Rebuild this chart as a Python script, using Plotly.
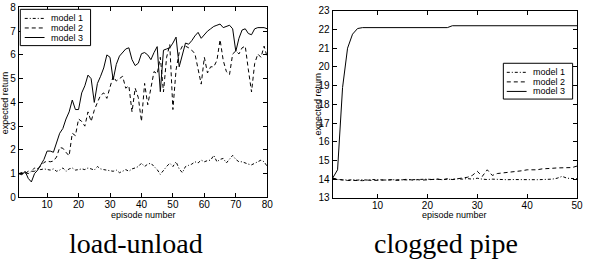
import plotly.graph_objects as go

# ---------------- data ----------------
series_names = ["model 1", "model 2", "model 3"]
captions = ["load-unload", "clogged pipe"]
axis_title_x = "episode number"
axis_title_y = "expected return"

lu_episodes = list(range(1, 81))
lu_model1 = [1.0, 1.0, 1.05, 1.0, 1.1, 1.24, 1.2, 1.17, 1.2, 1.17,
             1.15, 1.2, 1.1, 1.15, 1.24, 1.1, 1.2, 1.24, 1.15, 1.17,
             1.2, 1.17, 1.24, 1.2, 1.15, 1.3, 1.2, 1.17, 1.15, 1.1,
             1.1, 1.15, 1.04, 1.1, 1.17, 1.1, 1.2, 1.24, 1.3, 1.44,
             1.3, 1.4, 1.44, 1.3, 1.17, 0.97, 1.15, 1.3, 1.44, 1.3,
             1.5, 1.2, 1.04, 1.3, 1.35, 1.4, 1.5, 1.45, 1.57, 1.5,
             1.55, 1.57, 1.77, 1.5, 1.6, 1.64, 1.45, 1.6, 1.77, 1.6,
             1.5, 1.5, 1.44, 1.4, 1.37, 1.45, 1.5, 1.57, 1.5, 1.3]
lu_model2 = [1.0, 1.05, 1.0, 1.1, 1.1, 1.1, 1.2, 1.33, 1.47, 1.53,
             1.5, 1.53, 1.7, 2.1, 2.07, 1.9, 1.75, 2.7, 2.6, 3.3,
             3.2, 3.0, 3.6, 3.2, 3.67, 4.0, 4.3, 4.4, 4.17, 4.64,
             5.1, 4.9, 5.0, 5.1, 4.6, 4.7, 3.6, 4.6, 4.2, 3.2,
             4.8, 3.9, 4.6, 5.3, 5.2, 5.9, 4.44, 5.9, 6.44, 3.7,
             5.37, 6.1, 6.37, 6.37, 6.3, 6.2, 6.05, 5.37, 4.77, 5.9,
             5.24, 5.5, 5.5, 5.77, 6.64, 5.77, 5.3, 5.17, 6.04, 6.17,
             6.04, 6.3, 6.37, 5.37, 4.44, 5.64, 6.04, 5.9, 6.37, 5.9]
lu_model3 = [1.0, 0.95, 1.1, 0.8, 0.65, 1.0, 1.15, 1.4, 1.6, 1.95,
             1.95, 1.9, 2.3, 2.7, 2.9, 3.3, 3.6, 4.1, 3.7, 3.7,
             4.4, 4.7, 5.15, 5.0, 4.0, 4.8, 5.1, 5.45, 6.0, 5.9,
             4.95, 5.6, 5.95, 6.1, 6.25, 6.3, 5.8, 5.55, 5.65, 6.05,
             6.1, 6.0, 5.8, 6.1, 6.35, 4.45, 6.2, 6.25, 6.3, 6.5,
             6.75, 5.5, 6.0, 6.5, 6.45, 6.6, 6.8, 6.95, 6.7, 6.85,
             7.0, 7.1, 7.2, 7.25, 7.3, 7.15, 7.2, 7.25, 7.1, 6.15,
             6.7, 7.05, 7.1, 6.9, 6.85, 7.1, 7.15, 7.15, 7.15, 7.1]

cp_episodes = list(range(1, 51))
cp_model1 = [14.05, 13.98, 13.97, 13.95, 13.97, 13.95, 13.97, 13.95, 13.98, 13.96,
             13.98, 13.95, 13.97, 13.96, 13.98, 13.96, 13.97, 13.99, 13.97, 14.0,
             13.98, 14.0, 13.97, 14.0, 13.98, 14.02, 14.0, 14.03, 14.0, 14.05,
             14.0, 13.98, 14.0, 13.98, 13.98, 13.97, 13.98, 13.97, 13.98, 13.97,
             13.98, 13.97, 13.98, 13.98, 14.0, 14.05, 14.15, 14.05, 14.03, 14.02]
cp_model2 = [14.05, 13.98, 13.95, 13.93, 13.95, 13.93, 13.92, 13.95, 13.93, 13.95,
             13.93, 13.95, 13.97, 13.93, 13.95, 14.0, 13.95, 13.97, 13.95, 13.98,
             13.97, 14.0, 13.97, 14.02, 13.98, 14.03, 14.05, 14.1, 14.2, 14.42,
             14.15, 14.5, 14.2, 14.3, 14.33, 14.35, 14.38, 14.4, 14.45, 14.5,
             14.5, 14.5, 14.55, 14.55, 14.58, 14.6, 14.6, 14.6, 14.62, 14.7]
cp_model3 = [14.05, 14.5, 18.9, 21.0, 21.75, 22.05, 22.1, 22.1, 22.1, 22.1,
             22.1, 22.1, 22.1, 22.1, 22.1, 22.1, 22.1, 22.1, 22.1, 22.1,
             22.1, 22.1, 22.1, 22.1, 22.2, 22.2, 22.2, 22.2, 22.2, 22.2,
             22.2, 22.2, 22.2, 22.2, 22.2, 22.2, 22.2, 22.2, 22.2, 22.2,
             22.2, 22.2, 22.2, 22.2, 22.2, 22.2, 22.2, 22.2, 22.2, 22.2]

lu_xticks = [10, 20, 30, 40, 50, 60, 70, 80]
lu_yticks = [0, 1, 2, 3, 4, 5, 6, 7, 8]
cp_xticks = [10, 20, 30, 40, 50]
cp_yticks = list(range(13, 24))

# ---------------- styling ----------------
W, H = 590, 264
dashes = ["3px,2px,1px,2px", "4px,3px", "solid"]
FONT = "Arial, Liberation Sans, sans-serif"


def px(x, y):
    return x / W, (H - y) / H


fig = go.Figure()

for name, vals, d in zip(series_names, [lu_model1, lu_model2, lu_model3], dashes):
    fig.add_trace(go.Scatter(x=lu_episodes, y=vals, mode="lines", name=name,
                             line=dict(color="black", width=1, dash=d),
                             xaxis="x", yaxis="y", showlegend=False))
for name, vals, d in zip(series_names, [cp_model1, cp_model2, cp_model3], dashes):
    fig.add_trace(go.Scatter(x=cp_episodes, y=vals, mode="lines", name=name,
                             line=dict(color="black", width=1, dash=d),
                             xaxis="x2", yaxis="y2", showlegend=False))

ax_common = dict(showline=True, linecolor="black", linewidth=1, mirror="ticks",
                 ticks="inside", ticklen=4, tickcolor="black", tickwidth=1,
                 showgrid=False, zeroline=False, ticklabeloverflow="allow",
                 tickfont=dict(family=FONT, size=10, color="black"))

lx0, lx1 = px(19, 0)[0], px(270, 0)[0]
ly0, ly1 = px(0, 200.5)[1], px(0, 1.5)[1]
rx0, rx1 = px(336, 0)[0], px(583, 0)[0]
ry0, ry1 = px(0, 201)[1], px(0, 5)[1]

fig.update_layout(
    width=W, height=H, margin=dict(l=0, r=0, t=0, b=0),
    paper_bgcolor="white", plot_bgcolor="white", showlegend=False,
    xaxis=dict(domain=[lx0, lx1], range=[1, 80], tickvals=lu_xticks, anchor="y",
               ticklabelstandoff=-2, **ax_common),
    yaxis=dict(domain=[ly0, ly1], range=[0, 8], tickvals=lu_yticks, anchor="x", **ax_common),
    xaxis2=dict(domain=[rx0, rx1], range=[1, 50], tickvals=cp_xticks, anchor="y2",
                ticklabelstandoff=-2, **ax_common),
    yaxis2=dict(domain=[ry0, ry1], range=[13, 23], tickvals=cp_yticks, anchor="x2", **ax_common),
)

annotations = []
shapes = []

# axis titles
for cx, cy in [(144.5, 219), (459.5, 219)]:
    x, y = px(cx, cy)
    annotations.append(dict(text=axis_title_x, x=x, y=y, xref="paper", yref="paper",
                            showarrow=False, xanchor="center", yanchor="middle",
                            font=dict(family=FONT, size=9, color="black")))
for cx, cy in [(5, 101), (321.5, 103)]:
    x, y = px(cx, cy)
    annotations.append(dict(text=axis_title_y, x=x, y=y, xref="paper", yref="paper",
                            showarrow=False, xanchor="center", yanchor="middle", textangle=-90,
                            font=dict(family=FONT, size=9, color="black")))

# captions
for cap, cx in zip(captions, [137, 451]):
    x, y = px(cx, 249)
    annotations.append(dict(text=cap, x=x, y=y, xref="paper", yref="paper",
                            showarrow=False, xanchor="center", yanchor="middle",
                            font=dict(family="Liberation Serif, Times New Roman, serif",
                                      size=28, color="black")))

# legends (box, sample lines, labels)
legend_specs = [
    dict(box=(20.5, 3.5, 91.5, 41.5), rows=[13, 23, 33], sx=(25, 45), tx=50),
    dict(box=(508.5, 60, 578.5, 97.5), rows=[69.5, 79.5, 89.5], sx=(512, 532), tx=536.5),
]
for spec in legend_specs:
    bx0, by0, bx1, by1 = spec["box"]
    p0 = px(bx0, by1)
    p1 = px(bx1, by0)
    shapes.append(dict(type="rect", xref="paper", yref="paper", x0=p0[0], y0=p0[1],
                       x1=p1[0], y1=p1[1], line=dict(color="black", width=1),
                       fillcolor="white", layer="above"))
    for name, d, ry in zip(series_names, dashes, spec["rows"]):
        a = px(spec["sx"][0], ry)
        b = px(spec["sx"][1], ry)
        shapes.append(dict(type="line", xref="paper", yref="paper", x0=a[0], y0=a[1],
                           x1=b[0], y1=b[1], line=dict(color="black", width=1, dash=d),
                           layer="above"))
        t = px(spec["tx"], ry)
        annotations.append(dict(text=name, x=t[0], y=t[1], xref="paper", yref="paper",
                                showarrow=False, xanchor="left", yanchor="middle",
                                font=dict(family=FONT, size=9, color="black")))

fig.update_layout(annotations=annotations, shapes=shapes)
fig.write_html(
    "out.html",
    config={"displayModeBar": False, "staticPlot": True},
    post_script="document.body.style.margin='0';document.body.style.overflow='hidden';",
)
